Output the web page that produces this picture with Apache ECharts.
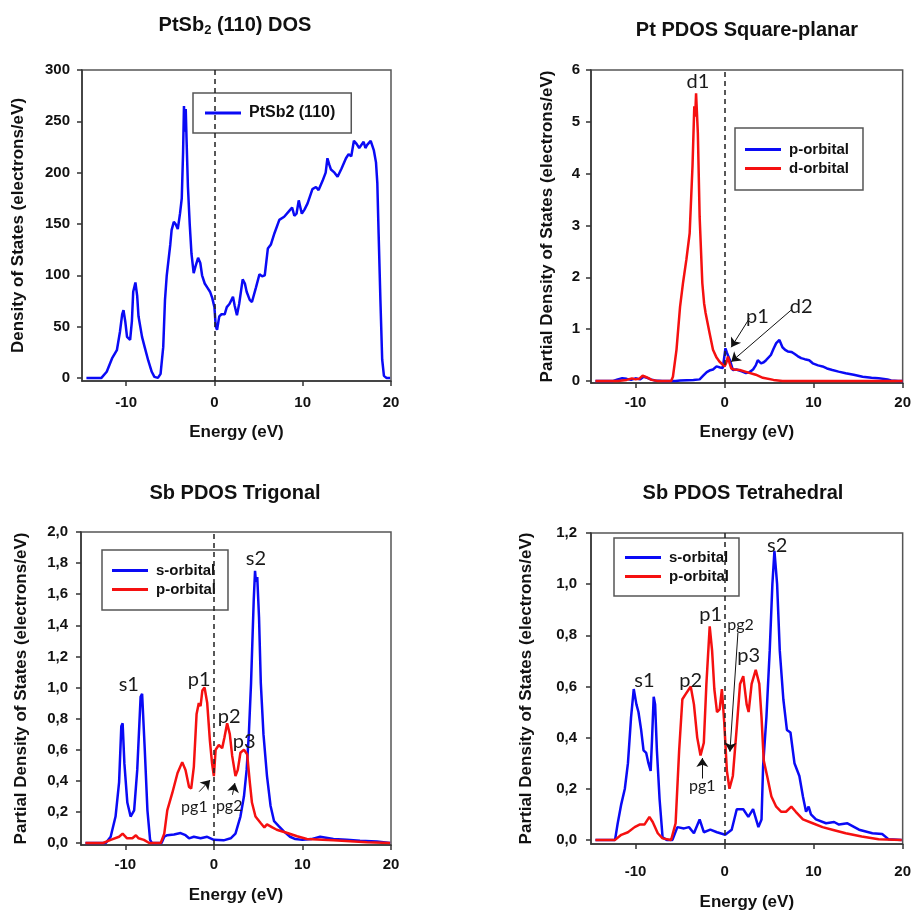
<!DOCTYPE html>
<html><head><meta charset="utf-8">
<script src="https://cdn.jsdelivr.net/npm/echarts@6/dist/echarts.min.js"></script>
<style>html,body{margin:0;padding:0;background:#fff}#c{width:914px;height:915px}</style>
</head><body><div id="c"></div>
<script>
// ---------------- DATA ----------------
const energyTicks = [-10, 0, 10, 20];
const dosTicks = [0, 50, 100, 150, 200, 250, 300];
const ptTicks = [0, 1, 2, 3, 4, 5, 6];
const trigTicks = [0, 0.2, 0.4, 0.6, 0.8, 1.0, 1.2, 1.4, 1.6, 1.8, 2.0];
const tetTicks = [0, 0.2, 0.4, 0.6, 0.8, 1.0, 1.2];

const panelTitles = ['PtSb{s|2} (110) DOS', 'Pt PDOS Square-planar', 'Sb PDOS Trigonal', 'Sb PDOS Tetrahedral'];
const yNames = ['Density of States (electrons/eV)', 'Partial Density of States (electrons/eV)',
  'Partial Density of States (electrons/eV)', 'Partial Density of States (electrons/eV)'];
const xName = 'Energy (eV)';

const totalDos = [[-14.5,0],[-12.8,0],[-12.2,6],[-11.6,19],[-11.05,27],[-10.7,45],[-10.45,62],[-10.3,66],[-10.1,55],[-9.9,40],[-9.55,37],[-9.35,55],[-9.2,84],[-8.95,93],[-8.75,80],[-8.6,60],[-8.2,40],[-7.9,30],[-7.5,17],[-7.1,6],[-6.8,1],[-6.4,0],[-6.1,4],[-5.8,30],[-5.6,76],[-5.4,100],[-5.2,115],[-5.0,130],[-4.85,144],[-4.6,152],[-4.4,150],[-4.15,145],[-3.9,160],[-3.7,175],[-3.55,220],[-3.45,265],[-3.35,240],[-3.25,262],[-3.15,230],[-3.0,186],[-2.8,150],[-2.6,121],[-2.35,102],[-2.1,110],[-1.85,117],[-1.6,112],[-1.4,100],[-1.1,92],[-0.8,88],[-0.5,84],[-0.25,78],[0,69],[0.15,50],[0.3,47],[0.55,60],[0.8,62],[1.16,62],[1.4,69],[1.7,72],[2.1,79],[2.3,70],[2.55,61],[2.8,72],[3.2,96],[3.45,92],[3.65,84],[4.0,76],[4.25,74],[4.7,88],[5.1,101],[5.4,99],[5.7,100],[6.05,126],[6.4,130],[6.8,141],[7.35,154],[7.9,157],[8.5,163],[8.8,166],[9.05,158],[9.3,160],[9.55,173],[9.9,160],[10.2,164],[10.55,170],[11.1,184],[11.5,186],[11.8,183],[12.25,192],[12.6,200],[12.8,214],[13.0,208],[13.2,203],[13.6,200],[13.95,196],[14.4,204],[14.9,214],[15.2,218],[15.5,216],[15.8,231],[16.1,228],[16.4,224],[16.9,230],[17.1,224],[17.3,227],[17.7,231],[18.05,222],[18.3,210],[18.45,190],[18.6,140],[18.8,76],[19.0,18],[19.2,2],[19.5,0],[19.9,0]];

const ptP = [[-14.5,0],[-12.5,0],[-12,0.03],[-11.5,0.05],[-11,0.04],[-10.5,0.02],[-10,0.05],[-9.5,0.03],[-9.1,0.08],[-8.7,0.06],[-8.3,0.03],[-7.8,0.01],[-7,0],[-5.5,0],[-5,0.01],[-3.5,0.02],[-2.8,0.03],[-2.4,0.1],[-2.0,0.17],[-1.7,0.2],[-1.3,0.22],[-0.9,0.28],[-0.5,0.26],[-0.2,0.25],[0.1,0.63],[0.25,0.55],[0.37,0.53],[0.6,0.4],[0.93,0.21],[1.3,0.22],[1.68,0.2],[2.0,0.18],[2.4,0.15],[2.8,0.17],[3.2,0.22],[3.5,0.3],[3.73,0.4],[4.1,0.34],[4.4,0.36],[4.66,0.4],[5.2,0.5],[5.5,0.62],[5.8,0.73],[6.16,0.79],[6.5,0.65],[6.8,0.6],[7.1,0.57],[7.5,0.56],[7.8,0.53],[8.2,0.48],[8.6,0.44],[9.0,0.42],[9.5,0.4],[9.7,0.43],[9.9,0.34],[10.5,0.3],[11.0,0.28],[11.5,0.24],[12.1,0.21],[12.8,0.18],[13.6,0.15],[14.5,0.12],[15.5,0.08],[16.5,0.06],[17.3,0.05],[18.3,0.03],[18.7,0.01],[19.5,0],[20,0]];
const ptD = [[-14.5,0],[-12,0],[-11,0.02],[-10.4,0.05],[-10,0.03],[-9.6,0.04],[-9.2,0.1],[-8.9,0.08],[-8.6,0.06],[-8.2,0.02],[-7.5,0],[-6.0,0],[-5.8,0.08],[-5.4,0.6],[-5.0,1.43],[-4.66,1.9],[-4.29,2.34],[-3.92,2.85],[-3.6,4.15],[-3.4,5.3],[-3.3,5.1],[-3.2,5.55],[-3.0,4.78],[-2.8,3.17],[-2.5,1.89],[-2.3,1.5],[-2.13,1.31],[-1.68,0.92],[-1.3,0.6],[-0.9,0.45],[-0.56,0.37],[0,0.28],[0.2,0.35],[0.37,0.47],[0.55,0.35],[0.75,0.24],[1.1,0.22],[1.7,0.21],[2.5,0.17],[3.5,0.12],[4.3,0.06],[5.5,0.02],[6.5,0],[20,0]];

const trigS = [[-14.5,0],[-12.2,0],[-11.65,0.04],[-11.1,0.17],[-10.7,0.39],[-10.45,0.75],[-10.3,0.77],[-10.1,0.51],[-9.77,0.26],[-9.4,0.17],[-9.0,0.21],[-8.65,0.47],[-8.27,0.94],[-8.1,0.96],[-7.8,0.6],[-7.5,0.21],[-7.2,0.02],[-7.0,0],[-5.9,0],[-5.6,0.04],[-5.26,0.05],[-4.5,0.055],[-3.76,0.064],[-3.2,0.05],[-2.8,0.03],[-2.26,0.04],[-1.5,0.03],[-0.75,0.04],[0,0.02],[1.1,0.017],[1.9,0.03],[2.44,0.06],[3.0,0.17],[3.4,0.3],[3.7,0.47],[3.95,0.7],[4.2,1.03],[4.5,1.56],[4.65,1.75],[4.75,1.68],[4.9,1.71],[5.1,1.45],[5.3,1.03],[5.6,0.7],[6.0,0.43],[6.4,0.24],[6.8,0.14],[7.3,0.11],[7.9,0.075],[8.6,0.04],[9.2,0.025],[10,0.02],[11,0.025],[12,0.04],[13.5,0.025],[15,0.02],[16.5,0.015],[18.4,0.01],[19.9,0]];
const trigP = [[-14.5,0],[-12.5,0],[-11.65,0.02],[-10.7,0.04],[-10.3,0.06],[-9.8,0.03],[-9.2,0.03],[-8.8,0.05],[-8.5,0.03],[-7.9,0.02],[-7.3,0],[-6.0,0],[-5.6,0.06],[-5.26,0.21],[-4.7,0.32],[-4.1,0.45],[-3.57,0.52],[-3.2,0.47],[-2.8,0.36],[-2.56,0.35],[-2.26,0.49],[-1.95,0.83],[-1.7,0.9],[-1.5,0.88],[-1.3,0.98],[-1.05,1.0],[-0.75,0.9],[-0.45,0.66],[-0.2,0.51],[0,0.43],[0.2,0.6],[0.56,0.63],[0.94,0.61],[1.2,0.68],[1.5,0.77],[1.8,0.7],[2.07,0.56],[2.44,0.43],[2.7,0.47],[3.0,0.58],[3.4,0.6],[3.76,0.57],[4.06,0.39],[4.3,0.26],[4.7,0.17],[5.26,0.13],[5.7,0.1],[6.0,0.12],[6.6,0.1],[7.1,0.085],[8.3,0.064],[9.4,0.043],[10.5,0.026],[13.5,0.017],[17.3,0.005],[19.9,0]];

const tetS = [[-14.5,0],[-12.3,0],[-12.0,0.065],[-11.6,0.14],[-11.2,0.2],[-10.85,0.3],[-10.5,0.48],[-10.2,0.59],[-9.9,0.53],[-9.67,0.5],[-9.37,0.43],[-9.1,0.35],[-8.8,0.34],[-8.55,0.3],[-8.3,0.27],[-8.15,0.39],[-7.96,0.56],[-7.8,0.53],[-7.6,0.35],[-7.3,0.16],[-6.96,0.01],[-6.5,0],[-5.85,0],[-5.3,0.05],[-4.55,0.045],[-4.0,0.05],[-3.44,0.026],[-2.8,0.08],[-2.33,0.03],[-1.6,0.04],[-0.85,0.03],[0.07,0.02],[0.8,0.04],[1.37,0.12],[2.1,0.12],[2.67,0.09],[3.2,0.12],[3.8,0.05],[4.15,0.08],[4.33,0.29],[4.7,0.48],[5.07,0.74],[5.37,1.0],[5.6,1.13],[5.9,1.0],[6.2,0.74],[6.6,0.55],[7.0,0.43],[7.4,0.42],[7.85,0.3],[8.4,0.25],[8.8,0.17],[9.15,0.11],[9.44,0.13],[9.7,0.1],[10.26,0.08],[11.4,0.065],[12.3,0.07],[12.85,0.06],[13.8,0.065],[15.1,0.04],[16.6,0.026],[17.7,0.023],[18.4,0.003],[19.9,0]];
const tetP = [[-14.5,0],[-12.3,0],[-11.6,0.02],[-10.85,0.03],[-10.1,0.05],[-9.55,0.06],[-9.0,0.06],[-8.44,0.09],[-8.07,0.07],[-7.5,0.026],[-6.96,0.006],[-6.0,0],[-5.5,0.065],[-5.1,0.35],[-4.74,0.55],[-4.37,0.57],[-3.8,0.6],[-3.44,0.53],[-3.07,0.4],[-2.7,0.33],[-2.33,0.38],[-2.04,0.61],[-1.67,0.835],[-1.4,0.74],[-1.15,0.59],[-0.85,0.5],[-0.55,0.51],[-0.3,0.59],[-0.04,0.46],[0.26,0.27],[0.55,0.2],[0.93,0.25],[1.37,0.44],[1.74,0.61],[2.1,0.64],[2.48,0.53],[2.7,0.5],[3.04,0.61],[3.5,0.665],[3.9,0.61],[4.15,0.48],[4.4,0.31],[4.78,0.25],[5.26,0.17],[5.8,0.13],[6.37,0.11],[6.9,0.11],[7.5,0.13],[8.0,0.11],[8.8,0.08],[9.9,0.065],[11.0,0.05],[12.1,0.04],[13.6,0.026],[15.4,0.013],[17.3,0.003],[19.9,0]];

// annotations: [text, energy, value]
const ptLabels = [['d1',-3.0,5.78],['p1',3.7,1.24],['d2',8.6,1.43]];
const ptArrows = [[[2.8,1.21],[0.75,0.65]],[[7.5,1.37],[0.75,0.37]]];
const trigLabels = [['s1',-9.6,1.02],['p1',-1.66,1.05],['p2',1.73,0.81],['p3',3.42,0.65],['s2',4.75,1.83],['pg1',-2.2,0.23],['pg2',1.73,0.24]];
const trigArrows = [[[-1.66,0.33],[-0.42,0.405]],[[2.1,0.31],[2.37,0.385]]];
const tetLabels = [['s1',-9.0,0.625],['p2',-3.8,0.625],['p1',-1.56,0.88],['pg2',1.8,0.84],['p3',2.7,0.72],['s2',5.9,1.15],['pg1',-2.5,0.21]];
const tetArrows = [[[-2.5,0.24],[-2.5,0.32]],[[1.5,0.81],[0.6,0.345]]];

// ---------------- STYLE / LAYOUT ----------------
const F = '"Liberation Sans", Arial, sans-serif';
const BLUE = '#0a0af5', RED = '#f51010';
const grids = [
  {left:82, top:70, width:309, height:311},
  {left:591, top:70, width:312, height:313},
  {left:81, top:532, width:310, height:313},
  {left:591, top:533, width:312, height:311}
];
const yRange = [[-3,300],[-0.04,6],[-0.013,2.0],[-0.016,1.2]];
const yTickSets = [dosTicks, ptTicks, trigTicks, tetTicks];
const yFmt = [v => String(v), v => String(v), v => v.toFixed(1).replace('.', ','), v => v.toFixed(1).replace('.', ',')];
const xLabelMargin = [14, 12, 12, 20];
const xNameGap = [43, 41, 42, 50];
const yLabelMargin = [12, 11, 13, 14];
const yNameGap = [55, 35, 51, 56];
const titlePos = [[235,25],[747,30],[235,493],[743,493]];

const lineCol = '#333';
const xAxes = grids.map((g, i) => ({
  type:'value', gridIndex:i, min:-15, max:20,
  name:xName, nameLocation:'middle', nameGap:xNameGap[i],
  nameTextStyle:{fontSize:17, fontWeight:'bold', fontFamily:F, color:'#111'},
  axisLine:{onZero:false, lineStyle:{color:lineCol, width:1.5}},
  axisTick:{show:true, length:5, customValues:energyTicks, lineStyle:{color:lineCol, width:1.5}},
  axisLabel:{customValues:energyTicks, margin:xLabelMargin[i], fontSize:15, fontWeight:'bold', fontFamily:F, color:'#111'},
  splitLine:{show:false}
}));
const yAxes = grids.map((g, i) => ({
  type:'value', gridIndex:i, min:yRange[i][0], max:yRange[i][1],
  name:yNames[i], nameLocation:'middle', nameGap:yNameGap[i],
  nameTextStyle:{fontSize:17, fontWeight:'bold', fontFamily:F, color:'#111'},
  axisLine:{onZero:false, lineStyle:{color:lineCol, width:1.5}},
  axisTick:{show:true, length:5, customValues:yTickSets[i], lineStyle:{color:lineCol, width:1.5}},
  axisLabel:{customValues:yTickSets[i], formatter:yFmt[i], margin:yLabelMargin[i], fontSize:15, fontWeight:'bold', fontFamily:F, color:'#111'},
  splitLine:{show:false}
}));

const zeroLine = {
  silent:true, symbol:'none', animation:false,
  label:{show:false},
  lineStyle:{type:[5,4], color:'#222', width:1.5},
  emphasis:{disabled:true},
  data:[{xAxis:0}]
};
function arrowMark(arrows) {
  return {
    silent:true, symbol:['none','arrow'], symbolSize:9, animation:false,
    label:{show:false}, emphasis:{disabled:true},
    lineStyle:{type:'solid', color:'#111', width:1},
    data: arrows.map(a => [{coord:a[0]}, {coord:a[1]}])
  };
}
function labelMark(labels) {
  return {
    silent:true, symbol:'circle', symbolSize:1, animation:false,
    itemStyle:{color:'rgba(0,0,0,0)'},
    data: labels.map(l => ({
      coord:[l[1], l[2]],
      label:{show:true, position:'inside', formatter:l[0], color:'#1a1a1a',
        fontFamily:'Lato, "Open Sans", sans-serif', fontSize: l[0].indexOf('pg') === 0 ? 16 : 20}
    }))
  };
}
function line(name, data, i, color, extra) {
  return Object.assign({
    type:'line', name, data, xAxisIndex:i, yAxisIndex:i,
    symbol:'none', showSymbol:false, animation:false,
    lineStyle:{color, width:2.5}, itemStyle:{color},
    emphasis:{disabled:true}
  }, extra || {});
}

const series = [
  line('PtSb2 (110)', totalDos, 0, BLUE, {markLine:zeroLine}),
  line('Pt p-orbital', ptP, 1, BLUE, {markLine:zeroLine}),
  line('Pt d-orbital', ptD, 1, RED, {markLine:arrowMark(ptArrows), markPoint:labelMark(ptLabels)}),
  line('Trig s-orbital', trigS, 2, BLUE, {markLine:zeroLine}),
  line('Trig p-orbital', trigP, 2, RED, {markLine:arrowMark(trigArrows), markPoint:labelMark(trigLabels)}),
  line('Tet s-orbital', tetS, 3, BLUE, {markLine:zeroLine}),
  line('Tet p-orbital', tetP, 3, RED, {markLine:arrowMark(tetArrows), markPoint:labelMark(tetLabels)})
];

function legend(names, left, top, padding, fontSize) {
  return {
    data:names, left, top, orient:'vertical', padding, itemGap:4,
    icon:'rect', itemWidth:36, itemHeight:3, selectedMode:false,
    borderColor:'#555', borderWidth:1.5, borderRadius:0,
    formatter: n => n.replace(/^(Pt|Trig|Tet) /, ''),
    textStyle:{fontSize, fontWeight:'bold', fontFamily:F, color:'#111', padding:[0,0,0,3]}
  };
}

const option = {
  backgroundColor:'#fff',
  animation:false,
  grid: grids.map(g => Object.assign({show:true, borderColor:'#555', borderWidth:1.5, containLabel:false}, g)),
  xAxis: xAxes,
  yAxis: yAxes,
  legend: [
    legend(['PtSb2 (110)'], 193, 93, [12,16,12,12], 16),
    legend(['Pt p-orbital','Pt d-orbital'], 735, 128, [14,14,14,10], 15),
    legend(['Trig s-orbital','Trig p-orbital'], 102, 550, [13,12,13,10], 15),
    legend(['Tet s-orbital','Tet p-orbital'], 614, 538, [12,10,12,11], 15)
  ],
  graphic: panelTitles.map((t, i) => ({
    type:'text', x:titlePos[i][0], y:titlePos[i][1], silent:true,
    style:{
      text:t, align:'center', verticalAlign:'middle', textAlign:'center', textVerticalAlign:'middle',
      fontSize:20, fontWeight:'bold', fontFamily:F, fill:'#111',
      rich:{s:{fontSize:13, fontWeight:'bold', fontFamily:F, fill:'#111', verticalAlign:'bottom', padding:[10,0,0,0]}}
    }
  })),
  series
};

const chart = echarts.init(document.getElementById('c'), null, {renderer:'canvas'});
chart.setOption(option);
</script>
</body></html>
